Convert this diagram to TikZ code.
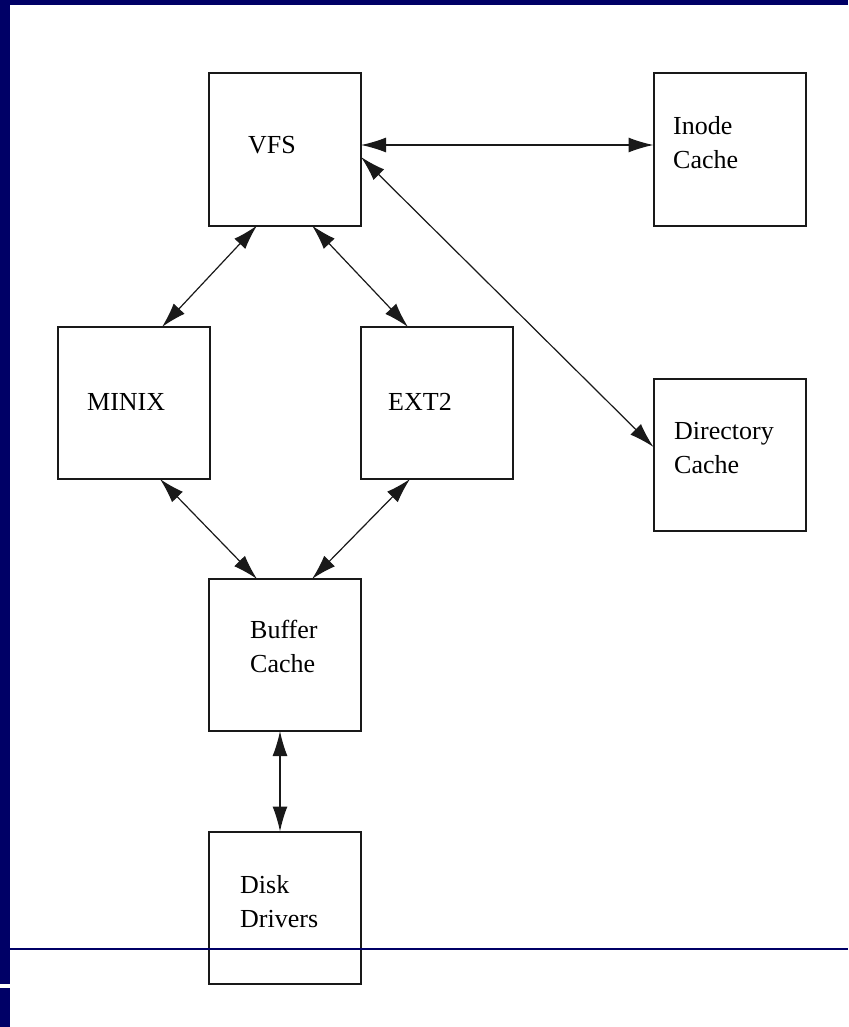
\documentclass[tikz,border=0pt]{standalone}
\usepackage{fontspec}
\setmainfont{Liberation Serif}
\usetikzlibrary{arrows.meta}
\definecolor{navy}{HTML}{000066}
\begin{document}
\begin{tikzpicture}[x=1pt,y=-1pt,
  box/.style={draw=black!90,line width=2pt,minimum width=152pt,minimum height=152pt,inner sep=0pt,outer sep=0pt},
  lbl/.style={anchor=base west,inner sep=0pt,align=left,font=\fontsize{26}{34}\selectfont},
  biarrow/.style={{Latex[length=25pt,width=15pt]}-{Latex[length=25pt,width=15pt]},line width=1.2pt,black!90}]
\useasboundingbox (0,0) rectangle (848,1027);
\fill[white] (0,0) rectangle (848,1027);
\fill[navy] (0,0) rectangle (848,5);
\fill[navy] (0,0) rectangle (10,984);
\fill[navy] (0,988) rectangle (10,1027);

\node[box] (vfs) at (285,149.5) {};
\node[box] (inode) at (729.5,149.5) {};
\node[box] (minix) at (133.5,403) {};
\node[box] (ext2) at (437,403) {};
\node[box] (dir) at (729.5,454.5) {};
\node[box] (buf) at (285,655) {};
\node[box] (disk) at (285,907.5) {};

\node[lbl] (tvfs) at (248,154) {VFS};
\node[lbl] (tinode) at (673,169) {Inode\\Cache};
\node[lbl] (tminix) at (87,410) {MINIX};
\node[lbl] (text2) at (388,410) {EXT2};
\node[lbl] (tdir) at (674,473) {Directory\\Cache};
\node[lbl] (tbuf) at (250,672) {Buffer\\Cache};
\node[lbl] (tdisk) at (240,927) {Disk\\Drivers};

\draw[biarrow] ([yshift=4.5pt]vfs.east) -- ([yshift=4.5pt]inode.west);
\draw[biarrow] ([yshift=-7.5pt]vfs.east) -- ([yshift=7.5pt]dir.west);
\draw[biarrow] ([xshift=-28pt]vfs.south) -- ([xshift=28.5pt]minix.north);
\draw[biarrow] ([xshift=27pt]vfs.south) -- ([xshift=-29pt]ext2.north);
\draw[biarrow] ([xshift=26.5pt]minix.south) -- ([xshift=-28pt]buf.north);
\draw[biarrow] ([xshift=-27pt]ext2.south) -- ([xshift=27pt]buf.north);
\draw[biarrow] ([xshift=-5pt]buf.south) -- ([xshift=-5pt]disk.north);

\draw[navy,line width=1.2pt] (10,949) -- (848,949);
\end{tikzpicture}
\end{document}
